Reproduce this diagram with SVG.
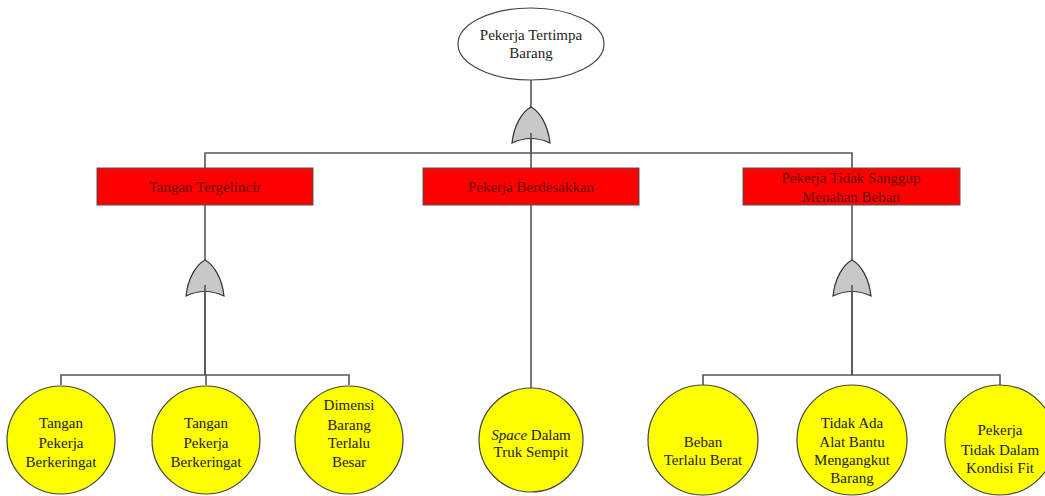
<svg xmlns="http://www.w3.org/2000/svg" width="1045" height="496" viewBox="0 0 1045 496">
<defs>
<style>
.ln{stroke:#555;stroke-width:1.6;fill:none}
.ev{fill:#ff0000;stroke:#555;stroke-width:1}
.bs{fill:#ffff00;stroke:#444;stroke-width:1.2}
.gt{fill:#c8c8c8;stroke:#333;stroke-width:1.2}
.t{font-family:"Liberation Serif",serif;font-size:15px;text-anchor:middle;fill:#222}
.tr{font-family:"Liberation Serif",serif;font-size:15px;text-anchor:middle;fill:#6a0000}
</style>
<path id="or" d="M0,0 C9,5 17,18 19,36 Q0,27 -19,36 C-17,18 -9,5 0,0 Z"/>
</defs>
<g id="connectors">
<line class="ln" x1="531" y1="80" x2="531" y2="168"/>
<polyline class="ln" points="205,168 205,153 852,153 852,168"/>
<line class="ln" x1="531" y1="205" x2="531" y2="388"/>
<line class="ln" x1="205" y1="205" x2="205" y2="375"/>
<polyline class="ln" points="61,385 61,375 349,375 349,385"/>
<line class="ln" x1="206" y1="375" x2="206" y2="385"/>
<line class="ln" x1="852" y1="205" x2="852" y2="375"/>
<polyline class="ln" points="703,385 703,375 1000,375 1000,385"/>
</g>
<g id="top">
<ellipse cx="531" cy="44" rx="73" ry="36" fill="#fff" stroke="#444" stroke-width="1.2"/>
<text class="t" x="531" y="40">Pekerja Tertimpa</text>
<text class="t" x="531" y="58">Barang</text>
</g>
<g id="gate-top"><use href="#or" class="gt" transform="translate(531,107)"/><line class="ln" x1="531" y1="133" x2="531" y2="153"/></g>
<g id="e1">
<rect class="ev" x="97" y="168" width="216" height="37"/>
<text class="tr" x="205" y="192">Tangan Tergelincir</text>
</g>
<g id="e2">
<rect class="ev" x="423" y="168" width="216" height="37"/>
<text class="tr" x="531" y="192">Pekerja Berdesakkan</text>
</g>
<g id="e3">
<rect class="ev" x="743" y="168" width="217" height="37"/>
<text class="tr" x="851" y="183">Pekerja Tidak Sanggup</text>
<text class="tr" x="851" y="202">Menahan Beban</text>
</g>
<g id="gate-left"><use href="#or" class="gt" transform="translate(205,260)"/><line class="ln" x1="205" y1="285" x2="205" y2="375"/></g>
<g id="gate-right"><use href="#or" class="gt" transform="translate(852,260)"/><line class="ln" x1="852" y1="285" x2="852" y2="375"/></g>
<g id="b1">
<circle class="bs" cx="61" cy="440" r="54"/>
<text class="t" x="61" y="428">Tangan</text>
<text class="t" x="61" y="448">Pekerja</text>
<text class="t" x="61" y="467">Berkeringat</text>
</g>
<g id="b2">
<circle class="bs" cx="206" cy="440" r="54"/>
<text class="t" x="206" y="428">Tangan</text>
<text class="t" x="206" y="448">Pekerja</text>
<text class="t" x="206" y="467">Berkeringat</text>
</g>
<g id="b3">
<circle class="bs" cx="349" cy="440" r="54"/>
<text class="t" x="349" y="410">Dimensi</text>
<text class="t" x="349" y="430">Barang</text>
<text class="t" x="349" y="448">Terlalu</text>
<text class="t" x="349" y="467">Besar</text>
</g>
<g id="b4">
<circle class="bs" cx="531" cy="440" r="52"/>
<text class="t" x="531" y="440"><tspan font-style="italic">Space</tspan> Dalam</text>
<text class="t" x="531" y="457">Truk Sempit</text>
</g>
<g id="b5">
<circle class="bs" cx="703" cy="440" r="55"/>
<text class="t" x="703" y="447">Beban</text>
<text class="t" x="703" y="465">Terlalu Berat</text>
</g>
<g id="b6">
<circle class="bs" cx="852" cy="440" r="55"/>
<text class="t" x="852" y="428">Tidak Ada</text>
<text class="t" x="852" y="447">Alat Bantu</text>
<text class="t" x="852" y="465">Mengangkut</text>
<text class="t" x="852" y="483">Barang</text>
</g>
<g id="b7">
<circle class="bs" cx="1000" cy="440" r="55"/>
<text class="t" x="1000" y="435">Pekerja</text>
<text class="t" x="1000" y="455">Tidak Dalam</text>
<text class="t" x="1000" y="473">Kondisi Fit</text>
</g>
</svg>
